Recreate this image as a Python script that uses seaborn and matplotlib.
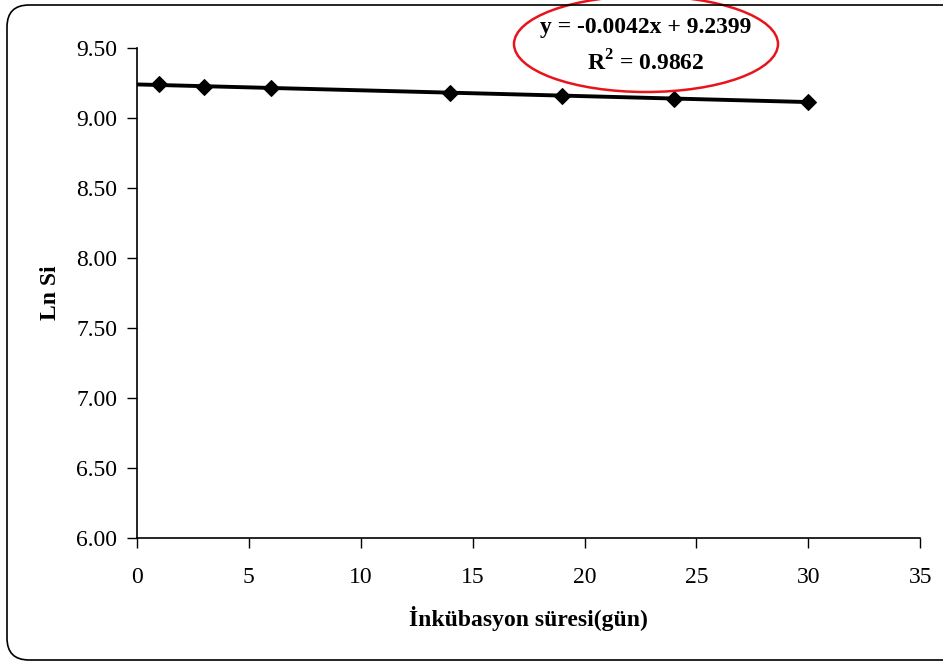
import numpy as np
import pandas as pd
import matplotlib.pyplot as plt
import seaborn as sns
from matplotlib.patches import Ellipse, FancyBboxPatch

# data
days = [1, 3, 6, 14, 19, 24, 30]
ln_si = [9.243, 9.221, 9.214, 9.181, 9.157, 9.138, 9.112]
slope = -0.0042
intercept = 9.2399
r2 = 0.9862
x_ticks = [0, 5, 10, 15, 20, 25, 30, 35]
y_ticks = [6.0, 6.5, 7.0, 7.5, 8.0, 8.5, 9.0, 9.5]

df = pd.DataFrame({"gun": days, "lnsi": ln_si})
trend = pd.DataFrame({"gun": [0, days[-1]]})
trend["lnsi"] = intercept + slope * trend["gun"]

sns.set_style("ticks")
plt.rcParams["font.family"] = ["Liberation Serif", "DejaVu Serif"]
plt.rcParams["mathtext.fontset"] = "custom"
plt.rcParams["mathtext.rm"] = "Liberation Serif"
plt.rcParams["mathtext.bf"] = "Liberation Serif:bold"
plt.rcParams["text.color"] = "black"
plt.rcParams["axes.labelcolor"] = "black"
plt.rcParams["xtick.color"] = "black"
plt.rcParams["ytick.color"] = "black"

fig = plt.figure(figsize=(9.43, 6.62), dpi=100)
ax = fig.add_axes([0.145, 0.187, 0.831, 0.7405])

sns.lineplot(data=trend, x="gun", y="lnsi", ax=ax, color="black", linewidth=2.8)
sns.lineplot(data=df, x="gun", y="lnsi", ax=ax, color="black", linewidth=0,
             marker="D", markersize=8, markeredgecolor="black")

ax.set_xlim(0, 35)
ax.set_ylim(6.0, 9.5)
ax.set_xticks(x_ticks)
ax.set_yticks(y_ticks)
ax.set_yticklabels([f"{v:.2f}" for v in y_ticks])
ax.tick_params(direction="out", length=7, width=1, labelsize=17, pad=7)
ax.tick_params(axis="x", pad=14)
for side in ["top", "right"]:
    ax.spines[side].set_visible(False)
for side in ["left", "bottom"]:
    ax.spines[side].set_linewidth(1.2)
    ax.spines[side].set_color("black")

ax.set_xlabel("İnkübasyon süresi(gün)", fontsize=17, fontweight="bold", labelpad=13)
ax.set_ylabel("Ln Si", fontsize=17, fontweight="bold", labelpad=11)

# equation + R2 in red ellipse
fig.text(646 / 943, 1 - 27 / 662, f"y = {slope:.4f}x + {intercept:.4f}",
         ha="center", va="center", fontsize=17, fontweight="bold")
fig.text(646 / 943, 1 - 63 / 662, f"R$^\\mathbf{{2}}$ = {r2:.4f}",
         ha="center", va="center", fontsize=17, fontweight="bold")
ell = Ellipse((646 / 943, 1 - 44 / 662), 264 / 943, 96 / 662,
              transform=fig.transFigure, fill=False, edgecolor="#e8141c",
              linewidth=1.8, clip_on=False)
fig.add_artist(ell)

# rounded chart frame (right side runs off the image)
frame = FancyBboxPatch((0.07, 0.02), 9.6, 6.55, boxstyle="round,pad=0,rounding_size=0.22",
                       transform=fig.dpi_scale_trans, fill=False,
                       edgecolor="black", linewidth=1.2)
fig.add_artist(frame)

fig.savefig("out.png", dpi=100)
